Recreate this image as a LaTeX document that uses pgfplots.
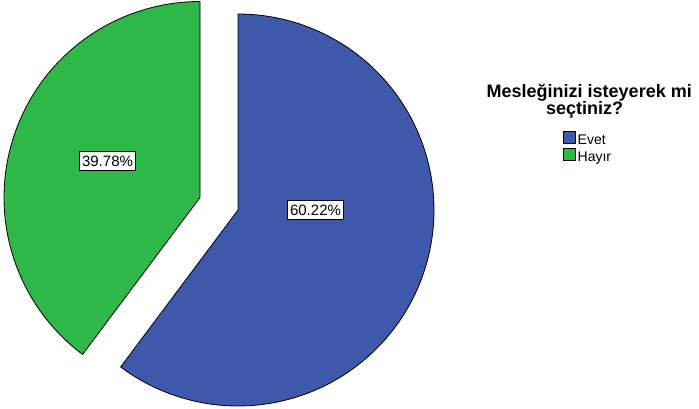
\documentclass[border=0pt]{standalone}
\usepackage{pgfplots}
\pgfplotsset{compat=1.18}
\usepackage{fontspec}
\setmainfont{Liberation Sans}
\definecolor{evet}{HTML}{3E58AC}
\definecolor{hayir}{HTML}{2EB848}
\def\pEvet{60.22}
\def\pHayir{39.78}
\begin{document}
\begin{tikzpicture}
\pgfmathsetmacro{\aEnd}{90-3.6*\pEvet}
\pgfmathsetmacro{\aGreen}{90+3.6*\pHayir}
\begin{axis}[
  scale only axis, width=699pt, height=408pt,
  xmin=0, xmax=699, ymin=0, ymax=408,
  hide axis, clip=false,
]
\path (0,0) rectangle (699,408);
% Evet slice
\addplot[fill=evet, draw=black, line width=0.8pt, domain=90:\aEnd, samples=120, variable=\t, line join=round]
  ({238+196*cos(t)}, {198+196*sin(t)}) -- (238,198) -- cycle;
% Hayir slice (exploded)
\addplot[fill=hayir, draw=black, line width=0.8pt, domain=90:\aGreen, samples=100, variable=\t, line join=round]
  ({200+196*cos(t)}, {210.5+196*sin(t)}) -- (200,210.5) -- cycle;
\node[draw=black, fill=white, inner xsep=2.5pt, inner ysep=4pt, line width=0.7pt, font=\fontsize{15}{15}\selectfont] at (315.5,198) {\pEvet\%};
\node[draw=black, fill=white, inner xsep=2.5pt, inner ysep=4pt, line width=0.7pt, font=\fontsize{15}{15}\selectfont] at (107.5,247) {\pHayir\%};
% legend
\node[anchor=base west, inner sep=0pt, font=\fontsize{18}{17.4}\bfseries\selectfont] at (486.5,310.7)
  {\vtop{\baselineskip=17.4pt\lineskiplimit=-100pt\hbox{Mesleğinizi isteyerek mi}\hbox{\hspace*{59.5pt}seçtiniz?}}};
\node[draw=black, fill=evet, minimum size=12.5pt, inner sep=0pt, line width=0.8pt] at (569.5,270.5) {};
\node[draw=black, fill=hayir, minimum size=12.5pt, inner sep=0pt, line width=0.8pt] at (569.5,253.5) {};
\node[anchor=base west, font=\fontsize{14}{14}\selectfont, inner sep=0pt] at (577.5,264) {Evet};
\node[anchor=base west, font=\fontsize{14}{14}\selectfont, inner sep=0pt] at (577.5,246.7) {Hayır};
\end{axis}
\end{tikzpicture}
\end{document}
